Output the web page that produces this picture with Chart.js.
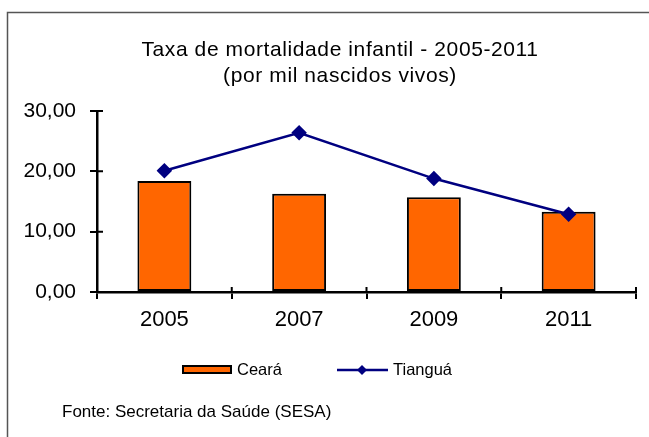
<!DOCTYPE html>
<html>
<head>
<meta charset="utf-8">
<script src="https://cdn.jsdelivr.net/npm/chart.js@4"></script>
<style>
  body { margin: 0; background: #fff; }
  canvas { display: block; }
</style>
</head>
<body>
<canvas id="chart" width="649" height="437"></canvas>
<script>
var anos = ['2005', '2007', '2009', '2011'];
var ceara = [18.4, 16.3, 15.7, 13.3];
var tiangua = [20.1, 26.4, 18.8, 12.9];
var yTicks = [0, 10, 20, 30];

var FONT = '"Liberation Sans", Arial, sans-serif';

// moldura, titulo, legenda e fonte desenhados a mao
var extras = {
    id: 'extras',
    beforeDraw: function (chart) {
        var c = chart.ctx;
        c.save();
        c.fillStyle = '#fff';
        c.fillRect(0, 0, chart.width, chart.height);
        c.strokeStyle = '#555';
        c.lineWidth = 1.5;
        c.strokeRect(7.5, 12.5, 700, 500);
        c.restore();
    },
    afterDraw: function (chart) {
        var c = chart.ctx;
        var xs = chart.scales.x, ys = chart.scales.y;
        c.save();

        // parte interna dos tracos das escalas (cruzam o eixo)
        c.strokeStyle = '#000';
        c.lineWidth = 2;
        c.beginPath();
        ys.ticks.forEach(function (t, i) {
            var py = ys.getPixelForTick(i);
            c.moveTo(ys.right, py);
            c.lineTo(ys.right + 6, py);
        });
        for (var i = 0; i <= anos.length; i++) {
            var px = xs.left + (xs.right - xs.left) * i / anos.length;
            c.moveTo(px, xs.top);
            c.lineTo(px, xs.top - 5);
        }
        c.stroke();

        c.fillStyle = '#000';
        c.textAlign = 'center';
        c.textBaseline = 'middle';
        c.font = '21px ' + FONT;
        c.letterSpacing = '0.6px';
        c.fillText('Taxa de mortalidade infantil - 2005-2011', 340, 50);
        c.fillText('(por mil nascidos vivos)', 340, 76);
        c.letterSpacing = '0px';

        // legenda
        c.textAlign = 'left';
        c.font = '16.5px ' + FONT;
        c.fillStyle = '#FF6600';
        c.fillRect(183, 366, 48, 7);
        c.strokeStyle = '#000';
        c.lineWidth = 2;
        c.strokeRect(183, 366, 48, 7);
        c.fillStyle = '#000';
        c.fillText('Ceará', 237, 370);

        c.strokeStyle = '#000080';
        c.lineWidth = 2.5;
        c.beginPath();
        c.moveTo(337, 370);
        c.lineTo(388, 370);
        c.stroke();
        c.fillStyle = '#000080';
        c.beginPath();
        c.moveTo(362, 365);
        c.lineTo(367, 370);
        c.lineTo(362, 375);
        c.lineTo(357, 370);
        c.closePath();
        c.fill();
        c.fillStyle = '#000';
        c.fillText('Tianguá', 393, 370);

        c.font = '17px ' + FONT;
        c.fillText('Fonte: Secretaria da Saúde (SESA)', 62, 412);
        c.restore();
    }
};

new Chart(document.getElementById('chart'), {
    type: 'bar',
    data: {
        labels: anos,
        datasets: [{
            type: 'line',
            label: 'Tianguá',
            data: tiangua,
            borderColor: '#000080',
            backgroundColor: '#000080',
            borderWidth: 2.5,
            pointStyle: 'rectRot',
            pointRadius: 6,
            pointHoverRadius: 6,
            tension: 0,
            order: 0
        }, {
            label: 'Ceará',
            data: ceara,
            backgroundColor: '#FF6600',
            borderColor: '#000',
            borderWidth: 2,
            borderSkipped: false,
            categoryPercentage: 0.4,
            barPercentage: 1,
            order: 1
        }]
    },
    options: {
        responsive: false,
        animation: false,
        layout: {
            padding: { left: 0, right: 13, top: 111, bottom: 95 }
        },
        scales: {
            x: {
                grid: {
                    offset: true,
                    drawOnChartArea: false,
                    color: '#000',
                    lineWidth: 2,
                    tickLength: 7
                },
                border: { color: '#000', width: 2.5 },
                ticks: {
                    color: '#000',
                    font: { family: FONT, size: 22 },
                    padding: 8
                },
                afterFit: function (scale) { scale.height = 50; }
            },
            y: {
                min: 0,
                max: 30,
                afterBuildTicks: function (scale) {
                    scale.ticks = yTicks.map(function (v) { return { value: v }; });
                },
                grid: {
                    drawOnChartArea: false,
                    color: '#000',
                    lineWidth: 2,
                    tickLength: 7
                },
                border: { color: '#000', width: 2.5 },
                ticks: {
                    color: '#000',
                    font: { family: FONT, size: 21 },
                    padding: 14,
                    callback: function (v) { return v.toFixed(2).replace('.', ','); }
                },
                afterFit: function (scale) { scale.width = 97; }
            }
        },
        plugins: {
            legend: { display: false },
            tooltip: { enabled: false }
        }
    },
    plugins: [extras]
});
</script>
</body>
</html>
